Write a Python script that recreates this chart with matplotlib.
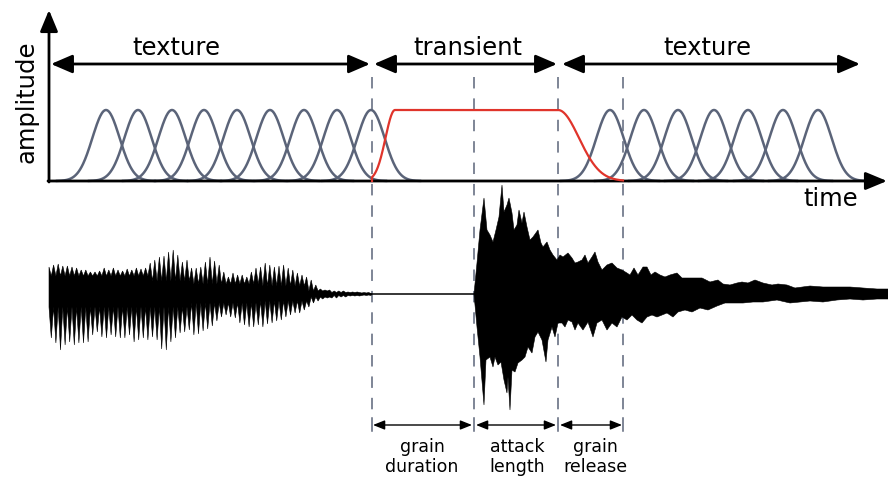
import numpy as np
import matplotlib.pyplot as plt

# ---- data (pixel units) ----
grain_centers_left = [106, 138, 172, 204, 237, 270, 304, 337, 371]
grain_centers_right = [610, 644, 678, 714, 748, 783, 818]
marker_x = [372, 474, 558, 623]          # dashed guides
envelope = [372, 395, 558, 623]          # rise start, hold start, hold end, release end

region_labels = ['texture', 'transient', 'texture']
region_label_x = [176, 468, 707]
region_spans = [(51, 370), (374, 557), (562, 860)]
bottom_labels = [('grain', 'duration'), ('attack', 'length'), ('grain', 'release')]
bottom_label_x = [422, 517, 595]
bottom_spans = [(373, 472), (476, 556), (560, 622)]

# waveform, first (texture) part: spike heights above / below centre line
tex_top_tips = [27, 29, 30, 28, 28, 27, 26, 24, 24, 22, 22, 23, 26, 24, 26, 24, 23, 25,
                24, 26, 25, 26, 31, 34, 37, 38, 42, 44, 39, 32, 34, 26, 26, 27, 32, 37,
                33, 29, 22, 17, 21, 19, 19, 17, 22, 26, 27, 31, 29, 27, 28, 29, 26, 24,
                21, 19, 17, 14, 9, 5, 4, 4, 3, 3, 3, 2, 2, 2, 1, 1]
tex_bot_tips = [44, 49, 56, 51, 48, 51, 49, 49, 48, 41, 38, 43, 44, 41, 43, 44, 44, 41,
                48, 46, 44, 46, 43, 46, 55, 56, 48, 44, 39, 38, 36, 41, 40, 37, 35, 32,
                27, 23, 21, 23, 24, 29, 31, 33, 33, 31, 33, 30, 29, 27, 26, 23, 21, 19,
                19, 16, 13, 9, 7, 5, 4, 4, 4, 3, 3, 2, 2, 2, 1, 1]
tex_top_notch = np.repeat([18, 13, 10, 8, 3, 1.5], [22, 9, 15, 10, 5, 9])
tex_bot_notch = np.repeat([13, 9, 7, 3, 1.5], [30, 15, 11, 5, 9])

# waveform, second (transient) part: outline points
att_top_x = [474, 477, 480, 484, 487, 490, 493, 496, 499, 502, 504, 507, 509, 512, 514,
             517, 519, 522, 524, 527, 530, 533, 538, 541, 543, 547, 550, 553, 557, 560,
             563, 568, 572, 575, 578, 582, 585, 588, 592, 595, 598, 602, 607, 612, 617,
             622, 627, 630, 634, 638, 643, 647, 651, 655, 660, 665, 670, 677, 682, 688,
             695, 702, 710, 718, 723, 730, 737, 742, 748, 755, 763, 772, 778, 787, 795,
             810, 823, 837, 850, 863, 877, 888]
att_top = [0, 31, 64, 96, 64, 59, 52, 64, 77, 109, 82, 89, 96, 81, 64, 69, 84, 71, 82, 67,
           54, 57, 64, 51, 47, 52, 44, 39, 34, 39, 37, 41, 36, 31, 32, 34, 39, 31, 37, 42,
           32, 24, 29, 31, 26, 24, 21, 19, 26, 19, 27, 27, 19, 22, 19, 17, 19, 21, 16, 16,
           16, 16, 12, 14, 10, 9, 11, 12, 11, 14, 11, 9, 10, 9, 6, 8, 7, 7, 7, 6, 5, 5]
att_bot_x = [474, 477, 480, 484, 486, 490, 493, 495, 498, 501, 504, 507, 508, 510, 512,
             515, 518, 522, 525, 528, 532, 535, 538, 542, 546, 548, 552, 555, 558, 562,
             565, 568, 572, 575, 578, 583, 588, 593, 597, 602, 607, 612, 617, 622, 627,
             632, 637, 642, 647, 652, 657, 662, 667, 673, 678, 685, 692, 700, 708, 717,
             725, 733, 743, 753, 763, 777, 790, 800, 810, 823, 837, 850, 863, 877, 888]
att_bot = [0, 33, 63, 111, 66, 63, 73, 63, 71, 68, 86, 99, 83, 116, 76, 78, 69, 66, 63, 53,
           59, 43, 38, 46, 68, 46, 33, 43, 29, 29, 33, 26, 28, 36, 29, 36, 28, 43, 29, 26,
           36, 29, 33, 23, 26, 21, 26, 29, 23, 21, 23, 21, 19, 23, 18, 16, 18, 14, 16, 12,
           9, 9, 9, 8, 8, 6, 9, 8, 7, 8, 6, 5, 6, 5, 5]

# ---- layout ----
W, H = 888, 478
AX_X, BASE_Y, TOP_Y = 49, 181, 10
GRAIN_AMP = 71
WAVE_Y = 294
GRAIN = '#5b6479'
RED = '#e0342b'

fig = plt.figure(figsize=(W / 100, H / 100), dpi=100)
ax = fig.add_axes([0, 0, 1, 1])
ax.set_xlim(0, W)
ax.set_ylim(H, 0)
ax.axis('off')


def arrow(x0, y0, x1, y1, style, hl, hw, lw, color='black', z=4):
    ax.annotate('', xy=(x1, y1), xytext=(x0, y0),
                arrowprops=dict(arrowstyle=f'{style},head_length={hl},head_width={hw}',
                                mutation_scale=1, lw=lw, color=color,
                                shrinkA=0, shrinkB=0), zorder=z)


# axes
arrow(AX_X, BASE_Y + 1, AX_X, TOP_Y, '-|>', 13, 5.4, 2)
arrow(AX_X - 1, BASE_Y, 887, BASE_Y, '-|>', 13, 5.4, 2)
ax.text(27, 102, 'amplitude', rotation=90, ha='center', va='center', fontsize=17.5)
ax.text(831, 206, 'time', ha='center', va='baseline', fontsize=17.5)

# dashed guides
for x in marker_x:
    ax.plot([x, x], [77, 419], color=GRAIN, lw=1.1, dashes=(7.5, 6.5), zorder=1)
    ax.plot([x, x], [418, 431], color=GRAIN, lw=1.1, zorder=1)

# grains
sigma, half = 13.6, 49
for c in grain_centers_left + grain_centers_right:
    gx = np.linspace(c - half, c + half, 200)
    gy = BASE_Y - GRAIN_AMP * np.exp(-0.5 * ((gx - c) / sigma) ** 2)
    ax.plot(gx, gy, color=GRAIN, lw=1.8, zorder=3)

# transient envelope
r0, h0, h1, r1 = envelope
ex_rise = np.linspace(r0, h0, 60)
ey_rise = np.exp(-0.5 * ((ex_rise - h0) / 9.5) ** 2)
ex_rel = np.linspace(h1, r1, 120)
ey_rel = np.exp(-0.5 * ((ex_rel - h1) / 21) ** 2)
ex = np.concatenate([[r0], ex_rise, ex_rel])
ey = np.concatenate([[0], ey_rise, ey_rel])
ax.plot(ex, BASE_Y - GRAIN_AMP * ey, color=RED, lw=1.6, zorder=5)

# region arrows + labels
for label, lx, (x0, x1) in zip(region_labels, region_label_x, region_spans):
    arrow(x0, 64, x1, 64, '<|-|>', 13, 5.6, 2)
    ax.text(lx, 55, label, ha='center', va='baseline', fontsize=17.5)

# bottom dimension arrows + labels
for (l1, l2), cx, (x0, x1) in zip(bottom_labels, bottom_label_x, bottom_spans):
    arrow(x0, 425, x1, 425, '<|-|>', 7, 2.8, 1)
    ax.text(cx, 452, l1, ha='center', va='baseline', fontsize=12.5)
    ax.text(cx, 472, l2, ha='center', va='baseline', fontsize=12.5)

# waveform part 1 (texture)
step = 4.6
top_pts = [(AX_X, WAVE_Y)]
for i, (t, n) in enumerate(zip(tex_top_tips, tex_top_notch)):
    top_pts += [(AX_X + step * i, WAVE_Y - t), (AX_X + step * i + step / 2, WAVE_Y - n)]
bot_pts = [(AX_X, WAVE_Y + tex_bot_notch[0])]
for i, (t, n) in enumerate(zip(tex_bot_tips, tex_bot_notch)):
    x = AX_X + 2.3 + step * i
    bot_pts += [(x, WAVE_Y + t), (x + step / 2, WAVE_Y + n)]
poly = top_pts + [(372, WAVE_Y)] + bot_pts[::-1]
px, py = zip(*poly)
ax.fill(px, py, color='black', lw=0.4, zorder=2)

# silent stretch
ax.plot([360, 476], [WAVE_Y, WAVE_Y], color='black', lw=1.1, zorder=2)

# waveform part 2 (transient + decay)
px = list(att_top_x) + list(att_bot_x[::-1])
py = [WAVE_Y - v for v in att_top] + [WAVE_Y + v for v in att_bot[::-1]]
ax.fill(px, py, color='black', lw=0.4, zorder=2)

fig.savefig('out.png', dpi=100)
